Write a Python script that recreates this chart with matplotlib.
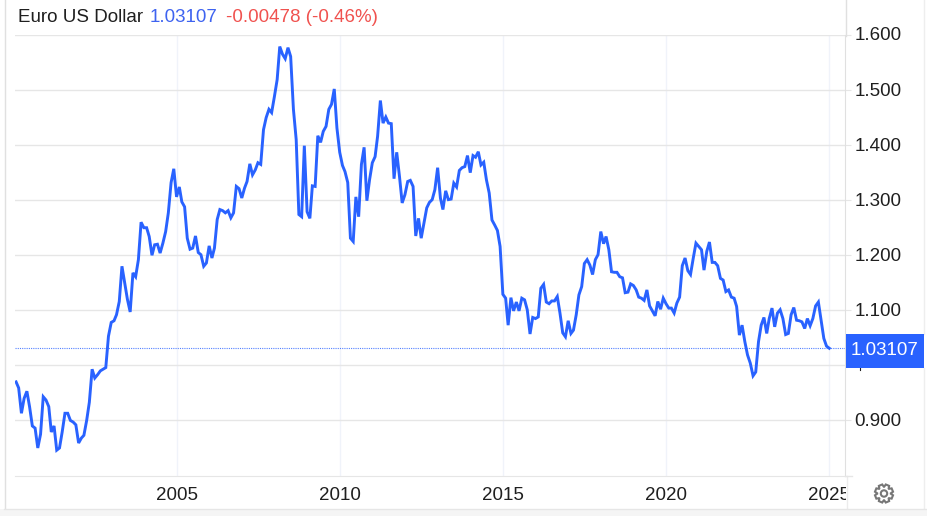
import numpy as np
import pandas as pd
import matplotlib
matplotlib.use("Agg")
import matplotlib.pyplot as plt
import matplotlib.dates as mdates
from matplotlib.lines import Line2D
from matplotlib.patches import Circle, Polygon, Rectangle
from matplotlib.transforms import Bbox, IdentityTransform, ScaledTranslation, TransformedBbox

plt.rcParams['font.family'] = ['Liberation Sans', 'DejaVu Sans']

# monthly closes, Jan 2000 to Jan 2025
y2000 = [0.970, 0.959, 0.913, 0.940, 0.953, 0.925, 0.890, 0.886, 0.850, 0.875, 0.943, 0.937]
y2001 = [0.925, 0.879, 0.890, 0.846, 0.850, 0.879, 0.913, 0.913, 0.900, 0.897, 0.892, 0.859]
y2002 = [0.868, 0.873, 0.900, 0.933, 0.993, 0.977, 0.983, 0.990, 0.993, 0.996, 1.053, 1.078]
y2003 = [1.081, 1.092, 1.116, 1.180, 1.150, 1.120, 1.097, 1.168, 1.161, 1.192, 1.260, 1.250]
y2004 = [1.250, 1.234, 1.200, 1.219, 1.220, 1.204, 1.222, 1.243, 1.277, 1.332, 1.357, 1.306]
y2005 = [1.324, 1.297, 1.288, 1.231, 1.211, 1.213, 1.235, 1.205, 1.201, 1.180, 1.186, 1.217]
y2006 = [1.195, 1.213, 1.265, 1.283, 1.281, 1.277, 1.281, 1.268, 1.277, 1.325, 1.321, 1.304]
y2007 = [1.322, 1.334, 1.366, 1.346, 1.355, 1.368, 1.365, 1.428, 1.450, 1.465, 1.459, 1.488]
y2008 = [1.519, 1.579, 1.565, 1.557, 1.577, 1.561, 1.465, 1.410, 1.274, 1.270, 1.399, 1.279]
y2009 = [1.267, 1.326, 1.325, 1.417, 1.405, 1.425, 1.434, 1.465, 1.474, 1.502, 1.431, 1.387]
y2010 = [1.363, 1.352, 1.332, 1.231, 1.225, 1.306, 1.270, 1.365, 1.396, 1.299, 1.337, 1.368]
y2011 = [1.379, 1.416, 1.481, 1.440, 1.451, 1.440, 1.439, 1.339, 1.387, 1.343, 1.295, 1.310]
y2012 = [1.334, 1.336, 1.325, 1.235, 1.267, 1.231, 1.259, 1.286, 1.296, 1.301, 1.319, 1.359]
y2013 = [1.304, 1.283, 1.317, 1.301, 1.302, 1.331, 1.324, 1.354, 1.359, 1.361, 1.381, 1.350]
y2014 = [1.381, 1.378, 1.388, 1.364, 1.369, 1.337, 1.313, 1.264, 1.255, 1.245, 1.216, 1.129]
y2015 = [1.122, 1.073, 1.123, 1.099, 1.115, 1.099, 1.122, 1.119, 1.101, 1.057, 1.087, 1.085]
y2016 = [1.088, 1.140, 1.147, 1.115, 1.112, 1.117, 1.117, 1.125, 1.095, 1.059, 1.052, 1.081]
y2017 = [1.058, 1.064, 1.092, 1.128, 1.143, 1.185, 1.192, 1.182, 1.165, 1.192, 1.201, 1.243]
y2018 = [1.221, 1.234, 1.210, 1.170, 1.169, 1.169, 1.161, 1.159, 1.132, 1.133, 1.148, 1.145]
y2019 = [1.137, 1.124, 1.122, 1.118, 1.137, 1.108, 1.099, 1.090, 1.116, 1.102, 1.122, 1.112]
y2020 = [1.104, 1.104, 1.095, 1.113, 1.124, 1.181, 1.195, 1.172, 1.165, 1.195, 1.222, 1.216]
y2021 = [1.210, 1.173, 1.207, 1.224, 1.187, 1.187, 1.181, 1.158, 1.155, 1.134, 1.137, 1.124]
y2022 = [1.122, 1.107, 1.055, 1.073, 1.043, 1.019, 1.004, 0.981, 0.988, 1.043, 1.073, 1.087]
y2023 = [1.058, 1.085, 1.104, 1.070, 1.095, 1.101, 1.085, 1.056, 1.058, 1.092, 1.105, 1.082]
y2024 = [1.081, 1.079, 1.067, 1.085, 1.072, 1.085, 1.108, 1.115, 1.082, 1.049, 1.035, 1.03107]

rates = (y2000 + y2001 + y2002 + y2003 + y2004 + y2005 + y2006 + y2007 + y2008 + y2009
         + y2010 + y2011 + y2012 + y2013 + y2014 + y2015 + y2016 + y2017 + y2018 + y2019
         + y2020 + y2021 + y2022 + y2023 + y2024)
dates = pd.date_range('2000-01-31', periods=len(rates), freq='ME')

last_rate = 1.03107
y_ticks = [0.9, 1.0, 1.1, 1.2, 1.3, 1.4, 1.5, 1.6]
x_years = [2005, 2010, 2015, 2020, 2025]

W, H = 927, 516
BLUE = '#2962ff'
TEXT = '#1f1f1f'
GRID_H = '#e6e6e6'
GRID_V = '#f0f3fa'
EDGE = '#e0e0e0'
FS = 13.5

fig = plt.figure(figsize=(W / 100, H / 100), dpi=100, facecolor='white')
ax = fig.add_axes([15 / W, 1 - 475.5 / H, 830 / W, 440.5 / H])


def px_line(x0, y0, x1, y1, color=EDGE, lw=1.0, z=1):
    fig.add_artist(Line2D([x0 / W, x1 / W], [1 - y0 / H, 1 - y1 / H], color=color, lw=lw, zorder=z))


ax.plot(dates, rates, color=BLUE, lw=2.1, solid_joinstyle='miter', zorder=3)
ax.axhline(last_rate, color=BLUE, lw=0.8, ls=(0, (1, 1)), alpha=0.8, zorder=2)

ax.set_xlim(mdates.date2num(pd.Timestamp('2000-01-19')), mdates.date2num(pd.Timestamp('2025-06-25')))
ax.set_ylim(0.8, 1.6)
ax.set_xticks([mdates.date2num(pd.Timestamp(f'{yr}-01-01')) for yr in x_years])
ax.set_xticklabels([str(yr) for yr in x_years])
ax.set_yticks(y_ticks)
ax.set_yticklabels([f'{v:.3f}' if v != 1.0 else '' for v in y_ticks])
ax.yaxis.tick_right()
ax.grid(axis='y', color=GRID_H, lw=1.0, zorder=0)
ax.grid(axis='x', color=GRID_V, lw=1.0, zorder=0)
ax.set_axisbelow(True)
ax.tick_params(axis='y', length=4.3, width=0.8, color=GRID_H, labelsize=FS, labelcolor=TEXT, pad=2.5)
ax.tick_params(axis='x', length=0, labelsize=FS, labelcolor=TEXT, pad=8)
for name in ['top', 'left']:
    ax.spines[name].set_visible(False)
ax.spines['right'].set_color(EDGE)
ax.spines['bottom'].set_color(GRID_H)

# price labels sit a pixel above their grid lines
up = ScaledTranslation(0, 1 / 100, fig.dpi_scale_trans)
for lab in ax.get_yticklabels():
    lab.set_transform(lab.get_transform() + up)

# the last year label is cut off by the price scale
clip = TransformedBbox(Bbox([[0, 0], [846, H]]), IdentityTransform())
for lab in ax.get_xticklabels():
    lab.set_clip_box(clip)
    lab.set_clip_on(True)

# panel edges and bottom strip
px_line(4.5, 0, 4.5, 509)
px_line(845.5, 0, 845.5, 36)
px_line(846.5, 476, 846.5, 509, color='#ececec')
px_line(923.5, 0, 923.5, 334, color='#eeeeee')
px_line(923.5, 368, 923.5, 509, color='#eeeeee')
px_line(845, 475.5, 851.5, 475.5, color=GRID_H)
fig.add_artist(Rectangle((0, 0), 1, 7 / H, transform=fig.transFigure, facecolor='#f5f5f5',
                         edgecolor='none', zorder=1))
px_line(4, 509, W, 509, color='#e6e6e6')

# current price tag
fig.add_artist(Rectangle((846 / W, 1 - 367.7 / H), 77.5 / W, 33.7 / H, transform=fig.transFigure,
                         facecolor=BLUE, edgecolor='none', zorder=5))
fig.text(884.5 / W, 1 - 350.7 / H, f'{last_rate:.5f}', color='white', fontsize=FS, ha='center', va='center', zorder=6)
px_line(860, 368, 860, 370, color=TEXT, lw=0.8)

# header
fig.text(18 / W, 1 - 18 / H, 'Euro US Dollar', color=TEXT, fontsize=FS, va='center')
fig.text(149.5 / W, 1 - 18 / H, '1.03107', color='#3e63f0', fontsize=FS, va='center')
fig.text(226 / W, 1 - 18 / H, '-0.00478 (-0.46%)', color='#f0524f', fontsize=FS, va='center')

# settings gear, outline with a round hole
cx, cy = 884, 493.5
gear_angles = np.linspace(0, 2 * np.pi, 8, endpoint=False) + np.pi / 8
gear_pts = []
for a in gear_angles:
    for da, r in [(-0.36, 6.8), (-0.2, 9.2), (0.2, 9.2), (0.36, 6.8)]:
        gear_pts.append(((cx + r * np.cos(a + da)) / W, 1 - (cy + r * np.sin(a + da)) / H))
fig.add_artist(Polygon(gear_pts, closed=True, transform=fig.transFigure, facecolor='white',
                       edgecolor='#777777', lw=1.5, zorder=4))
fig.add_artist(Circle((cx, H - cy), 3.2, transform=IdentityTransform(), facecolor='white',
                      edgecolor='#777777', lw=1.5, zorder=5))

fig.savefig('out.png', dpi=100)
